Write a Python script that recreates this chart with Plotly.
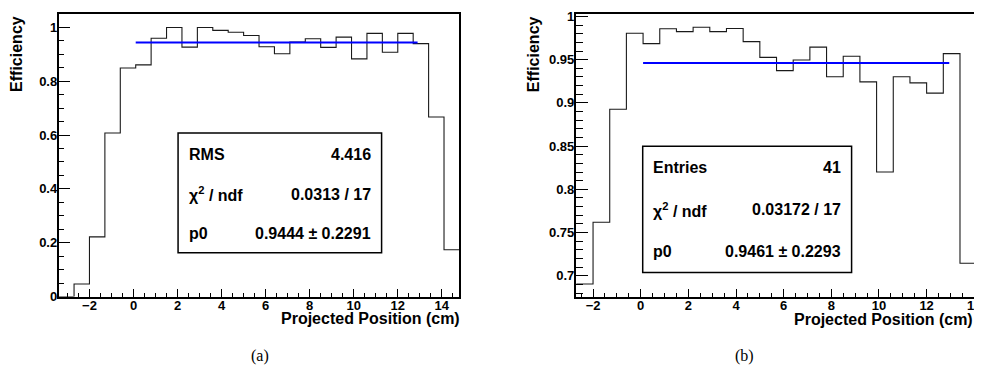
import plotly.graph_objects as go

# ---------------- data ----------------
edges_a = [-3.4, -2.7, -2.0, -1.3, -0.6, 0.1, 0.8, 1.5, 2.2, 2.9, 3.6, 4.3, 5.0,
           5.7, 6.4, 7.1, 7.8, 8.5, 9.2, 9.9, 10.6, 11.3, 12.0, 12.7, 13.4, 14.1, 14.8]
eff_a = [0.0, 0.047, 0.222, 0.608, 0.849, 0.861, 0.960, 1.0, 0.927, 1.0, 0.989,
         0.982, 0.970, 0.928, 0.902, 0.946, 0.958, 0.926, 0.964, 0.883, 0.978,
         0.908, 0.978, 0.940, 0.667, 0.174]

edges_b = [-2.7, -2.0, -1.3, -0.6, 0.1, 0.8, 1.5, 2.2, 2.9, 3.6, 4.3, 5.0, 5.7,
           6.4, 7.1, 7.8, 8.5, 9.2, 9.9, 10.6, 11.3, 12.0, 12.7, 13.4, 14.1]
eff_b = [0.6906, 0.762, 0.8926, 0.9805, 0.9685, 0.9857, 0.9824, 0.9875, 0.9824,
         0.986, 0.9708, 0.9526, 0.9373, 0.9496, 0.9645, 0.9302, 0.954, 0.9243,
         0.820, 0.9302, 0.9232, 0.9113, 0.957, 0.7145]

fit_range_a = [0.1, 12.9]
fit_range_b = [0.1, 12.95]
p0_a = 0.9444
p0_b = 0.9461

stats_a = [("RMS", "4.416"), ("χ<sup>2</sup> / ndf", "0.0313 / 17"), ("p0", "0.9444 ± 0.2291")]
stats_b = [("Entries", "41"), ("χ<sup>2</sup> / ndf", "0.03172 / 17"), ("p0", "0.9461 ± 0.2293")]

x_title = "Projected Position (cm)"
y_title = "Efficiency"
captions = ["(a)", "(b)"]

# ---------------- figure ----------------
# the page body has an 8px default margin, so the figure is drawn 8px in
OFF = 8
W, H = 982 - OFF, 385 - OFF
def px(x):
    return (x - OFF) / W
def py(y):
    return (H - (y - OFF)) / H

fig = go.Figure()
fig.add_trace(go.Scatter(x=edges_a, y=eff_a + [eff_a[-1]], mode="lines", line_shape="hv",
                         line=dict(color="#1a1a1a", width=1.1), xaxis="x", yaxis="y",
                         showlegend=False, hoverinfo="skip"))
fig.add_trace(go.Scatter(x=fit_range_a, y=[p0_a, p0_a], mode="lines",
                         line=dict(color="#0000ff", width=2), xaxis="x", yaxis="y",
                         showlegend=False))
fig.add_trace(go.Scatter(x=edges_b, y=eff_b + [eff_b[-1]], mode="lines", line_shape="hv",
                         line=dict(color="#1a1a1a", width=1.1), xaxis="x2", yaxis="y2",
                         showlegend=False, hoverinfo="skip"))
fig.add_trace(go.Scatter(x=fit_range_b, y=[p0_b, p0_b], mode="lines",
                         line=dict(color="#0000ff", width=2), xaxis="x2", yaxis="y2",
                         showlegend=False))

tickfont = dict(family="Liberation Sans", size=13, color="black", weight="bold")
common_x = dict(dtick=2, ticks="inside", ticklen=8, tickwidth=1, tickcolor="black",
                showline=True, linecolor="black", showgrid=False, zeroline=False,
                tickfont=tickfont, mirror=True, ticklabelstandoff=-4,
                ticklabeloverflow="allow",
                minor=dict(dtick=0.5, ticks="inside", ticklen=4, tickcolor="black", showgrid=False))

fig.update_layout(
    width=W, height=H, margin=dict(l=0, r=0, t=0, b=0),
    paper_bgcolor="white", plot_bgcolor="white",
    xaxis=dict(common_x, domain=[px(59), px(462.7)], range=[-3.4, 14.8], anchor="y",
               linewidth=1.6),
    yaxis=dict(domain=[py(301.7), py(9)], range=[0, 1.05], dtick=0.2, anchor="x",
               ticks="inside", ticklen=12, tickwidth=1, tickcolor="black",
               showline=True, linecolor="black", linewidth=1.6, mirror=True,
               showgrid=False, zeroline=False, tickfont=tickfont, ticklabelstandoff=-3,
               ticklabeloverflow="allow",
               minor=dict(dtick=0.05, ticks="inside", ticklen=6, tickcolor="black", showgrid=False)),
    xaxis2=dict(common_x, domain=[px(580), 1.0], range=[-2.72, 14.03], anchor="y2",
                linewidth=2),
    yaxis2=dict(domain=[py(301.7), py(9.3)], range=[0.676, 1.0025], dtick=0.05, anchor="x2",
                ticks="inside", ticklen=12, tickwidth=1, tickcolor="black",
                showline=True, linecolor="black", linewidth=2, mirror=False,
                showgrid=False, zeroline=False, tickfont=tickfont, ticklabelstandoff=-3,
                ticklabeloverflow="allow",
                minor=dict(dtick=0.01, ticks="inside", ticklen=7, tickcolor="black", showgrid=False)),
)

shapes = [
    dict(type="rect", xref="paper", yref="paper", x0=px(179.3), x1=px(384.3),
         y0=py(256.3), y1=py(132.3), line=dict(color="black", width=1.5), fillcolor="white",
         layer="above"),
    dict(type="rect", xref="paper", yref="paper", x0=px(647.3), x1=px(857.7),
         y0=py(276.7), y1=py(146), line=dict(color="black", width=1.5), fillcolor="white",
         layer="above"),
]
fig.update_layout(shapes=shapes)

sfont = dict(family="Liberation Sans", size=16, color="black", weight="bold")
ann = []
rows_a = [154.3, 195.5, 236.5]
rows_b = [168, 212, 255]
for (lab, val), yy in zip(stats_a, rows_a):
    ann.append(dict(x=px(188), y=py(yy), xref="paper", yref="paper", text=lab,
                    xanchor="left", yanchor="middle", showarrow=False, font=sfont))
    ann.append(dict(x=px(376), y=py(yy), xref="paper", yref="paper", text=val,
                    xanchor="right", yanchor="middle", showarrow=False, font=sfont))
for (lab, val), yy in zip(stats_b, rows_b):
    ann.append(dict(x=px(656), y=py(yy), xref="paper", yref="paper", text=lab,
                    xanchor="left", yanchor="middle", showarrow=False, font=sfont))
    ann.append(dict(x=px(849), y=py(yy), xref="paper", yref="paper", text=val,
                    xanchor="right", yanchor="middle", showarrow=False, font=sfont))

tfont = dict(family="Liberation Sans", size=16, color="black", weight="bold")
ann.append(dict(x=px(17), y=py(9), xref="paper", yref="paper", text=y_title, textangle=-90,
                xanchor="center", yanchor="top", showarrow=False, font=tfont))
ann.append(dict(x=px(538), y=py(9), xref="paper", yref="paper", text=y_title, textangle=-90,
                xanchor="center", yanchor="top", showarrow=False, font=tfont))
ann.append(dict(x=px(465), y=py(324), xref="paper", yref="paper", text=x_title,
                xanchor="right", yanchor="middle", showarrow=False, font=tfont))
ann.append(dict(x=1.0, y=py(325), xref="paper", yref="paper", text=x_title,
                xanchor="right", yanchor="middle", showarrow=False, font=tfont))

cfont = dict(family="Liberation Serif", size=16, color="black")
ann.append(dict(x=px(262), y=py(363), xref="paper", yref="paper", text=captions[0],
                xanchor="center", yanchor="middle", showarrow=False, font=cfont))
ann.append(dict(x=px(750), y=py(363), xref="paper", yref="paper", text=captions[1],
                xanchor="center", yanchor="middle", showarrow=False, font=cfont))
fig.update_layout(annotations=ann)

fig.write_html("out.html")
